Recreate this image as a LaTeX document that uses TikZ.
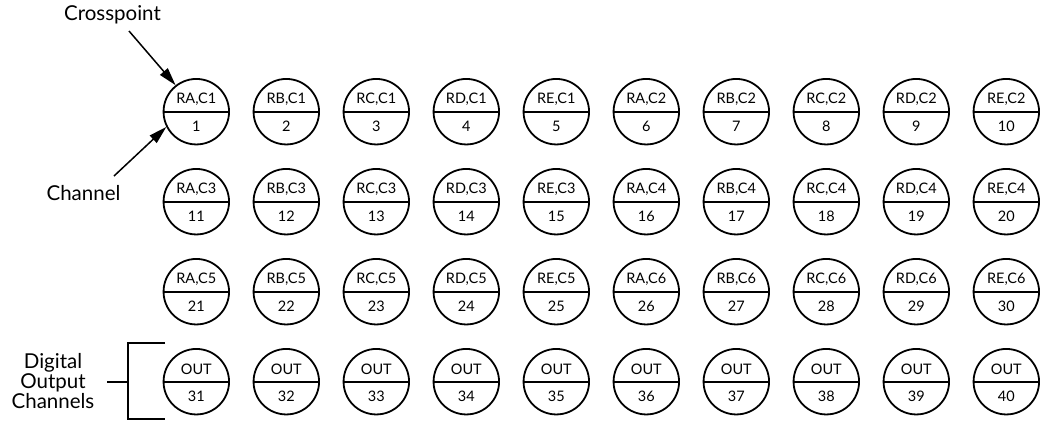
\documentclass[tikz,border=0pt]{standalone}
\usepackage{fontspec}
\setmainfont{Lato}
\usetikzlibrary{arrows.meta}
\tikzset{
  xp/.style={circle, draw, line width=1.8pt, minimum size=65.5pt, inner sep=0pt},
  divline/.style={line width=2pt},
  toptxt/.style={font=\fontsize{14.5}{16}\selectfont, inner sep=0pt},
  bottxt/.style={font=\fontsize{14.5}{16}\selectfont, inner sep=0pt},
  lbl/.style={font=\fontsize{20.5}{23}\selectfont, inner sep=0pt, align=center},
  pointer/.style={line width=1.5pt, -{Triangle[length=18pt,width=10pt]}},
  brk/.style={line width=1.8pt}
}
\begin{document}
\begin{tikzpicture}[x=1pt,y=-1pt]
\useasboundingbox (0,0) rectangle (1040,423);
\foreach \r in {0,1,2}{
  \foreach \c in {0,...,9}{
    \pgfmathtruncatemacro\n{10*\r+\c+1}
    \pgfmathtruncatemacro\L{mod(\c,5)}
    \pgfmathtruncatemacro\ch{2*\r+1+int(\c/5)}
    \node[xp] (c\n) at (196.3+90*\c, 111.7+90*\r) {};
    \draw[divline] (c\n.west) -- (c\n.east);
    \node[toptxt] at ([yshift=12pt]c\n.center) {R\ifcase\L A\or B\or C\or D\or E\fi,C\ch};
    \node[bottxt] at ([yshift=-15pt]c\n.center) {\n};
  }
}
\foreach \c in {0,...,9}{
  \pgfmathtruncatemacro\n{31+\c}
  \node[xp] (c\n) at (196.3+90*\c, 381.7) {};
  \draw[divline] (c\n.west) -- (c\n.east);
  \node[toptxt] at ([yshift=12pt]c\n.center) {OUT};
  \node[bottxt] at ([yshift=-15pt]c\n.center) {\n};
}
% labels
\node[lbl] (crosspoint) at (112.5,15) {Crosspoint};
\node[lbl] (channel) at (83.5,193) {Channel};
\node[lbl] (digital) at (53,381) {Digital\\[-3pt]Output\\[-3pt]Channels};
\coordinate (cpstart) at (129,31);
\coordinate (chstart) at (114,176);
\draw[pointer] (cpstart) -- (c1.128);
\draw[pointer] (chstart) -- (c1.207);
% bracket
\coordinate (bt) at (165,343.3);
\coordinate (bb) at (165,419.3);
\coordinate (bm) at (128.3,381.7);
\coordinate (bl) at (106.7,381.7);
\draw[brk] (bt) -- (128.3,343.3) -- (128.3,419.3) -- (bb);
\draw[brk] (bm) -- (bl);
\end{tikzpicture}
\end{document}
